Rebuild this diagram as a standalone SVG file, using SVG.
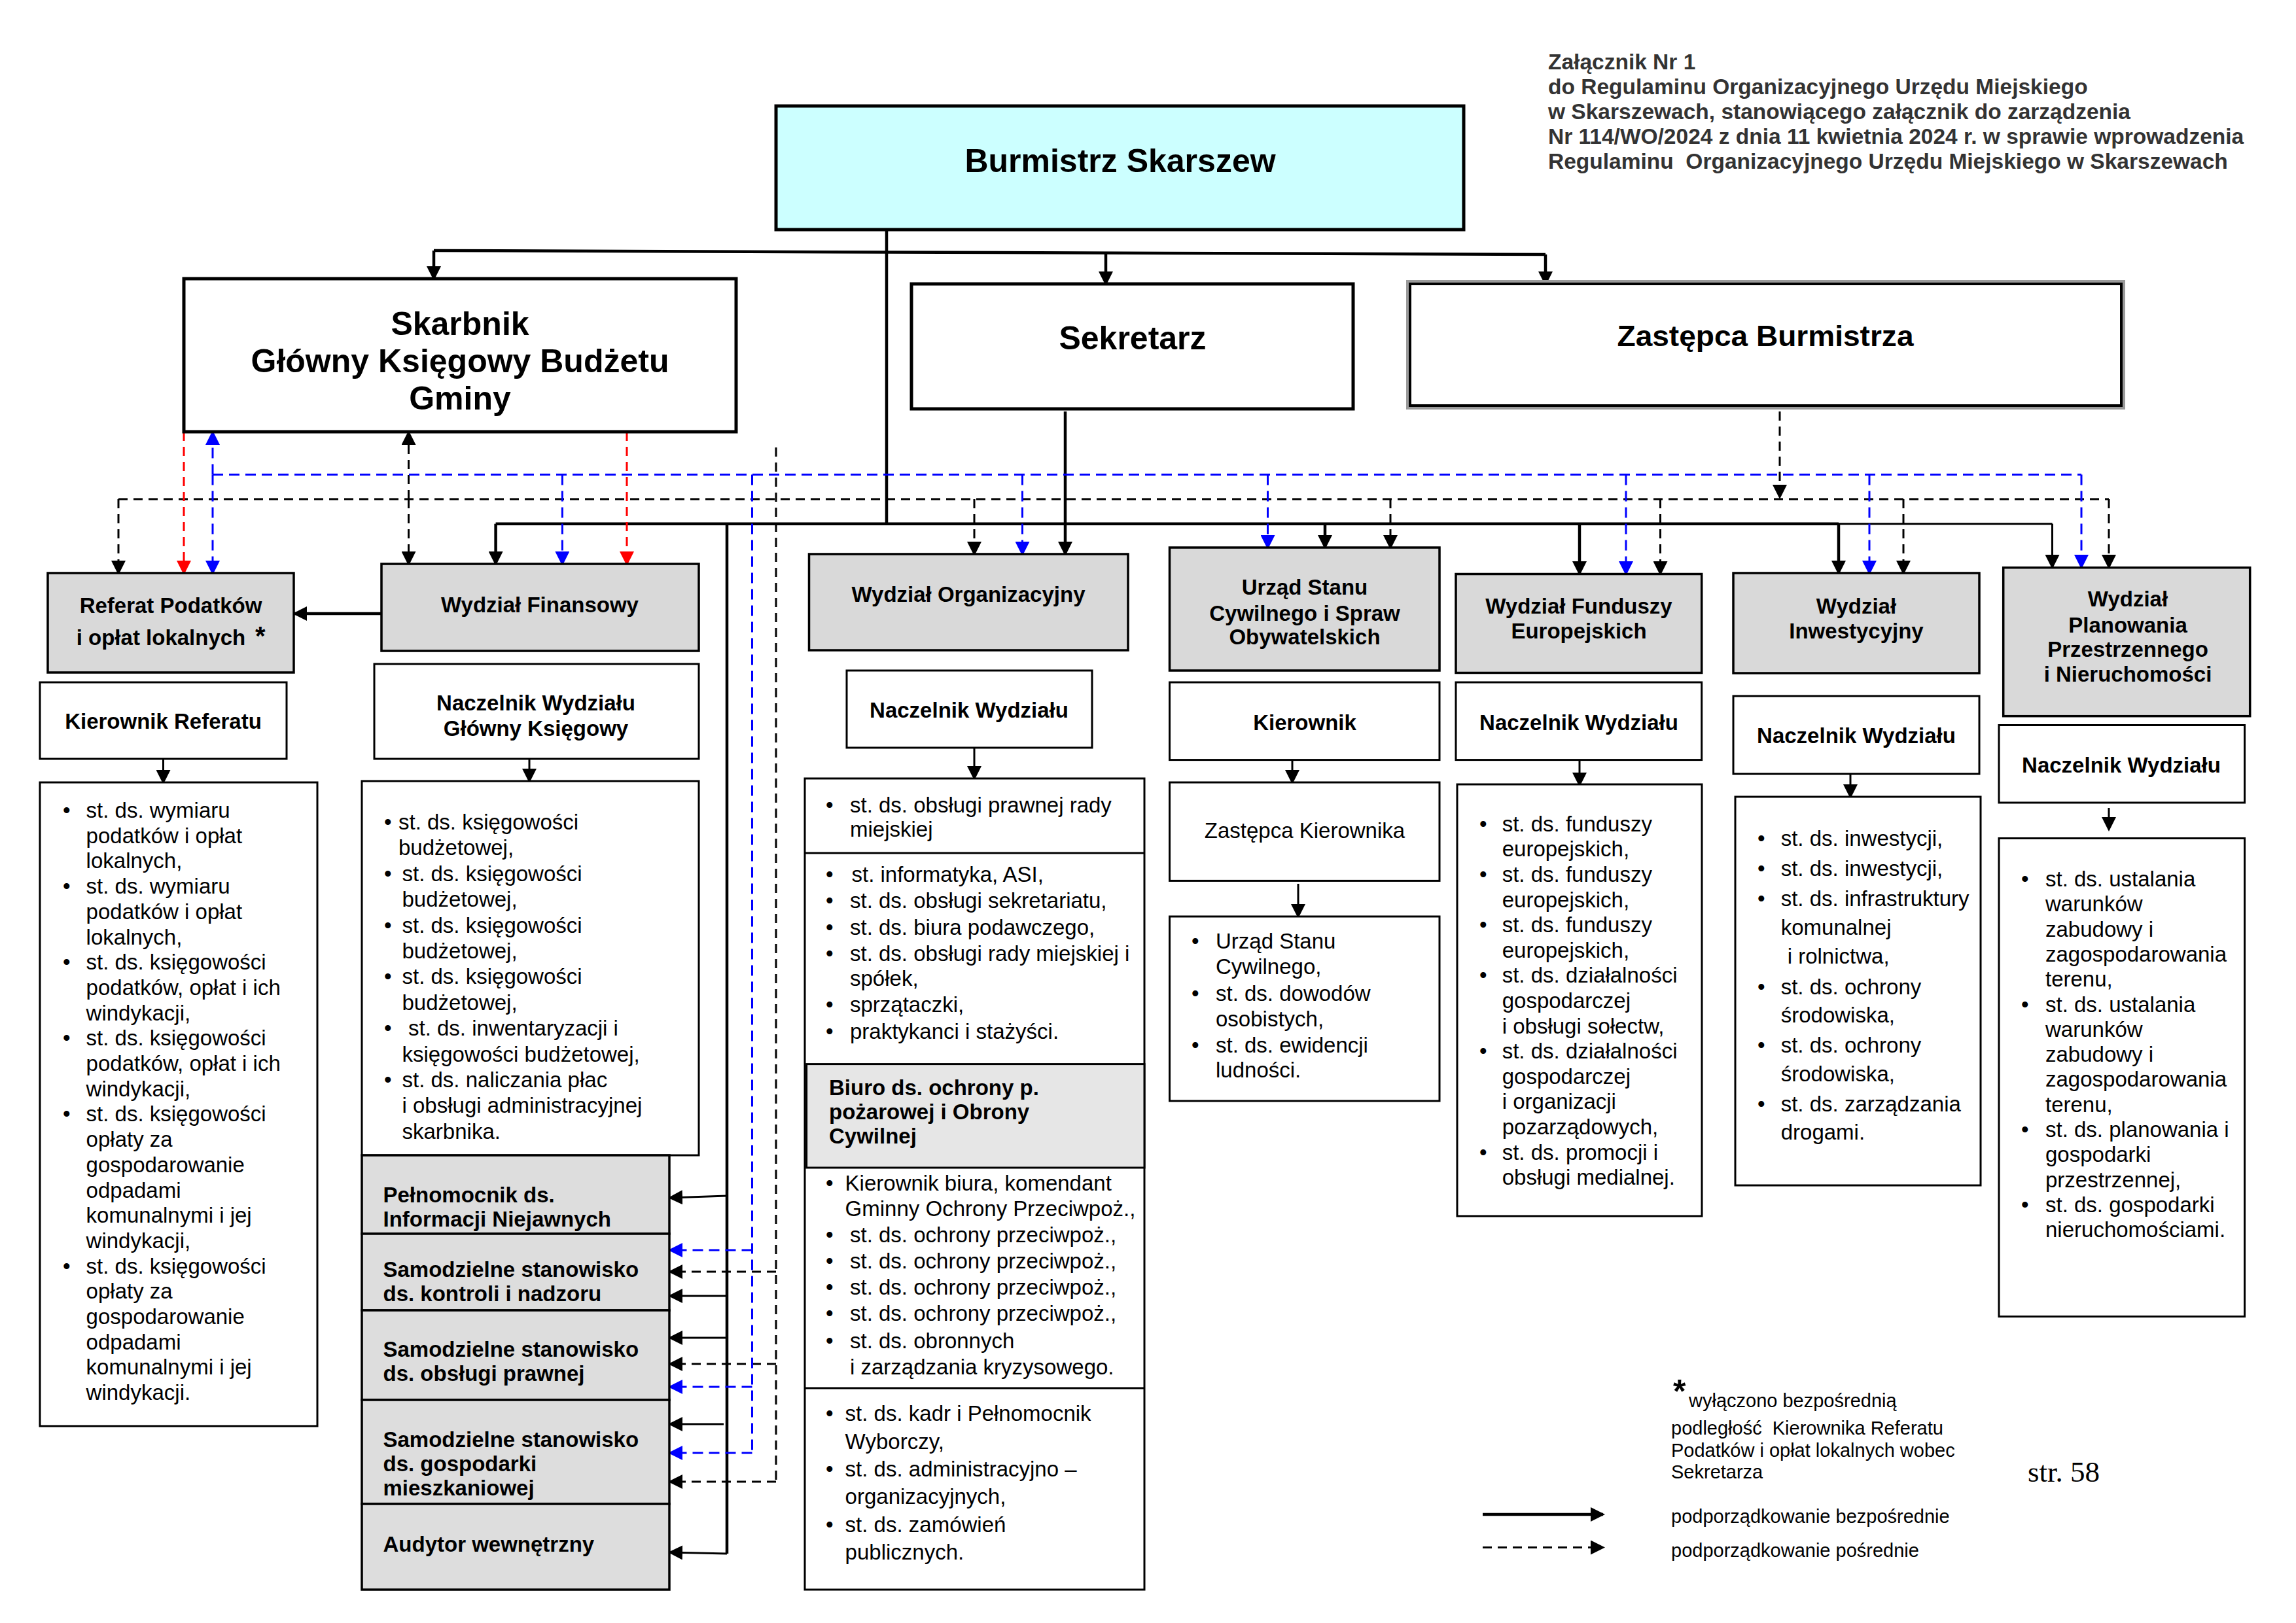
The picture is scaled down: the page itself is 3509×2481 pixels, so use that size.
<svg xmlns="http://www.w3.org/2000/svg" width="3509" height="2481" viewBox="0 0 3509 2481">
<defs>
<style>
.t{font-family:"Liberation Sans",Arial,sans-serif;font-size:33px;fill:#000}
.b{font-weight:bold}
.m{text-anchor:middle}
.big{font-size:50px;font-weight:bold}
.box{fill:#fff;stroke:#000;stroke-width:3}
.main{fill:#fff;stroke:#000;stroke-width:5}
.dept{fill:#D9D9D9;stroke:#000;stroke-width:3.5}
.samo{fill:#DDDDDD;stroke:#000;stroke-width:3.5}
.s{fill:none;stroke:#000;stroke-width:4.5}
.s2{fill:none;stroke:#000;stroke-width:3}
.dk{fill:none;stroke:#000;stroke-width:3;stroke-dasharray:14 9}
.db{fill:none;stroke:#0000FF;stroke-width:3;stroke-dasharray:16 9}
.dr{fill:none;stroke:#FF0000;stroke-width:3;stroke-dasharray:14 9}
.hd{font-family:"Liberation Sans",Arial,sans-serif;font-size:33.5px;font-weight:bold;fill:#333}
.lg{font-family:"Liberation Sans",Arial,sans-serif;font-size:29px;fill:#000}
</style>
<marker id="ak" markerUnits="userSpaceOnUse" viewBox="0 0 22 22" markerWidth="22" markerHeight="22" refX="19" refY="11" orient="auto"><path d="M0 0L22 11L0 22z" fill="#000"/></marker>
<marker id="ab" markerUnits="userSpaceOnUse" viewBox="0 0 22 22" markerWidth="22" markerHeight="22" refX="19" refY="11" orient="auto"><path d="M0 0L22 11L0 22z" fill="#0000FF"/></marker>
<marker id="ar" markerUnits="userSpaceOnUse" viewBox="0 0 22 22" markerWidth="22" markerHeight="22" refX="19" refY="11" orient="auto"><path d="M0 0L22 11L0 22z" fill="#FF0000"/></marker>
</defs>
<rect width="3509" height="2481" fill="#fff"/>

<g id="header">
<text class="hd" x="2366" y="106">Załącznik Nr 1</text>
<text class="hd" x="2366" y="144">do Regulaminu Organizacyjnego Urzędu Miejskiego</text>
<text class="hd" x="2366" y="182">w Skarszewach, stanowiącego załącznik do zarządzenia</text>
<text class="hd" x="2366" y="220">Nr 114/WO/2024 z dnia 11 kwietnia 2024 r. w sprawie wprowadzenia</text>
<text class="hd" x="2366" y="258" xml:space="preserve">Regulaminu  Organizacyjnego Urzędu Miejskiego w Skarszewach</text>
</g>

<g id="connectors">
<path class="s" d="M1355 351V801"/>
<path class="s" d="M663 383L2362 389"/>
<path class="s" d="M663 383V426" marker-end="url(#ak)"/>
<path class="s" d="M1690 386V434" marker-end="url(#ak)"/>
<path class="s" d="M2362 389V434" marker-end="url(#ak)"/>
<path class="s" d="M1628 629V847" marker-end="url(#ak)"/>
<path class="s" d="M757.6 800.7H2810"/>
<path class="s2" d="M2810 800.7H3136.5"/>
<path class="s" d="M757.6 800.7V862" marker-end="url(#ak)"/>
<path class="s" d="M2025 800.7V837" marker-end="url(#ak)"/>
<path class="s" d="M2414 800.7V877" marker-end="url(#ak)"/>
<path class="s" d="M2810 800.7V876" marker-end="url(#ak)"/>
<path class="s2" d="M3136.5 800.7V867" marker-end="url(#ak)"/>
<path class="s" d="M1111 800.7V2375"/>
<path class="s2" d="M1111 1828L1024 1831" marker-end="url(#ak)"/>
<path class="s2" d="M1111 1981H1024" marker-end="url(#ak)"/>
<path class="s2" d="M1111 2045H1024" marker-end="url(#ak)"/>
<path class="s2" d="M1106 2177H1024" marker-end="url(#ak)"/>
<path class="s2" d="M1111 2375L1024 2373" marker-end="url(#ak)"/>
<path class="s" d="M583 938H450" marker-end="url(#ak)"/>
<path class="s2" d="M249.5 1160V1196" marker-end="url(#ak)"/>
<path class="s2" d="M809 1160V1194" marker-end="url(#ak)"/>
<path class="s2" d="M1489 1143V1190" marker-end="url(#ak)"/>
<path class="s2" d="M1975 1162V1196" marker-end="url(#ak)"/>
<path class="s2" d="M1984 1351V1401" marker-end="url(#ak)"/>
<path class="s2" d="M2414 1162V1200" marker-end="url(#ak)"/>
<path class="s2" d="M2828 1183V1218" marker-end="url(#ak)"/>
<path class="s2" d="M3223 1235V1268" marker-end="url(#ak)"/>
<path class="dk" d="M181 763H3223"/>
<path class="dk" d="M181 763V876" marker-end="url(#ak)"/>
<path class="dk" d="M624.5 763V661" marker-end="url(#ak)"/>
<path class="dk" d="M624.5 763V862" marker-end="url(#ak)"/>
<path class="dk" d="M1186 684V2265"/>
<path class="dk" d="M1186 1944H1024" marker-end="url(#ak)"/>
<path class="dk" d="M1186 2085H1024" marker-end="url(#ak)"/>
<path class="dk" d="M1186 2265H1024" marker-end="url(#ak)"/>
<path class="dk" d="M1489 763V847" marker-end="url(#ak)"/>
<path class="dk" d="M2125 763V837" marker-end="url(#ak)"/>
<path class="dk" d="M2537.5 763V877" marker-end="url(#ak)"/>
<path class="dk" d="M2909 763V876" marker-end="url(#ak)"/>
<path class="dk" d="M3223 763V867" marker-end="url(#ak)"/>
<path class="dk" d="M2720 629V760" marker-end="url(#ak)"/>
<path class="db" d="M325 725.5H3181"/>
<path class="db" d="M325 725.5V661" marker-end="url(#ab)"/>
<path class="db" d="M325 725.5V876" marker-end="url(#ab)"/>
<path class="db" d="M859.4 725.5V862" marker-end="url(#ab)"/>
<path class="db" d="M1149.5 725.5V2221"/>
<path class="db" d="M1149.5 1911H1024" marker-end="url(#ab)"/>
<path class="db" d="M1149.5 2120H1024" marker-end="url(#ab)"/>
<path class="db" d="M1149.5 2221H1024" marker-end="url(#ab)"/>
<path class="db" d="M1562.5 725.5V847" marker-end="url(#ab)"/>
<path class="db" d="M1937.5 725.5V837" marker-end="url(#ab)"/>
<path class="db" d="M2485 725.5V877" marker-end="url(#ab)"/>
<path class="db" d="M2857 725.5V876" marker-end="url(#ab)"/>
<path class="db" d="M3181 725.5V867" marker-end="url(#ab)"/>
<path class="dr" d="M281 660V876" marker-end="url(#ar)"/>
<path class="dr" d="M958 660V862" marker-end="url(#ar)"/>
</g>

<g id="burmistrz">
<rect x="1186" y="162" width="1051" height="189" fill="#CCFFFF" stroke="#000" stroke-width="5"/>
<text class="t big m" x="1712" y="263">Burmistrz Skarszew</text>
</g>
<g id="skarbnik">
<rect class="main" x="281" y="426" width="844" height="234"/>
<text class="t big m" x="703" y="512">Skarbnik</text>
<text class="t big m" x="703" y="569">Główny Księgowy Budżetu</text>
<text class="t big m" x="703" y="626">Gminy</text>
</g>
<g id="sekretarz">
<rect class="main" x="1393" y="434" width="675" height="191"/>
<text class="t big m" x="1731" y="534">Sekretarz</text>
</g>
<g id="zastepca">
<rect x="2151" y="430" width="1095" height="194" fill="none" stroke="#9a9a9a" stroke-width="4"/>
<rect x="2155" y="434" width="1087" height="186" fill="#fff" stroke="#000" stroke-width="4"/>
<text class="t b m" x="2698" y="529" style="font-size:44px" textLength="453" lengthAdjust="spacingAndGlyphs">Zastępca Burmistrza</text>
</g>

<g id="referat">
<rect class="dept" x="73" y="876" width="376" height="152"/>
<text class="t b m" x="261" y="937">Referat Podatków</text>
<text class="t b m" x="246" y="986">i opłat lokalnych</text>
<text class="t b" x="390" y="986" style="font-size:40px">*</text>
</g>
<g id="kierownik-referatu">
<rect class="box" x="61" y="1043" width="377" height="117"/>
<text class="t b m" x="249.5" y="1114">Kierownik Referatu</text>
</g>
<g id="referat-lista">
<rect class="box" x="61" y="1196" width="424" height="984"/>
<text class="t">
<tspan x="96" y="1250">•</tspan><tspan x="131.6" y="1250">st. ds. wymiaru</tspan>
<tspan x="131.6" y="1288.7">podatków i opłat</tspan>
<tspan x="131.6" y="1327.4">lokalnych,</tspan>
<tspan x="96" y="1366.1">•</tspan><tspan x="131.6" y="1366.1">st. ds. wymiaru</tspan>
<tspan x="131.6" y="1404.8">podatków i opłat</tspan>
<tspan x="131.6" y="1443.5">lokalnych,</tspan>
<tspan x="96" y="1482.2">•</tspan><tspan x="131.6" y="1482.2">st. ds. księgowości</tspan>
<tspan x="131.6" y="1520.9">podatków, opłat i ich</tspan>
<tspan x="131.6" y="1559.6">windykacji,</tspan>
<tspan x="96" y="1598.3">•</tspan><tspan x="131.6" y="1598.3">st. ds. księgowości</tspan>
<tspan x="131.6" y="1637">podatków, opłat i ich</tspan>
<tspan x="131.6" y="1675.7">windykacji,</tspan>
<tspan x="96" y="1714.4">•</tspan><tspan x="131.6" y="1714.4">st. ds. księgowości</tspan>
<tspan x="131.6" y="1753.1">opłaty za</tspan>
<tspan x="131.6" y="1791.8">gospodarowanie</tspan>
<tspan x="131.6" y="1830.5">odpadami</tspan>
<tspan x="131.6" y="1869.2">komunalnymi i jej</tspan>
<tspan x="131.6" y="1907.9">windykacji,</tspan>
<tspan x="96" y="1946.6">•</tspan><tspan x="131.6" y="1946.6">st. ds. księgowości</tspan>
<tspan x="131.6" y="1985.3">opłaty za</tspan>
<tspan x="131.6" y="2024">gospodarowanie</tspan>
<tspan x="131.6" y="2062.7">odpadami</tspan>
<tspan x="131.6" y="2101.4">komunalnymi i jej</tspan>
<tspan x="131.6" y="2140.1">windykacji.</tspan>
</text>
</g>

<g id="wydzial-finansowy">
<rect class="dept" x="583" y="862" width="485" height="133"/>
<text class="t b m" x="825" y="936">Wydział Finansowy</text>
</g>
<g id="naczelnik-wf">
<rect class="box" x="572" y="1015" width="496" height="145"/>
<text class="t b m" x="819" y="1086">Naczelnik Wydziału</text>
<text class="t b m" x="819" y="1125">Główny Księgowy</text>
</g>
<g id="wf-lista">
<rect class="box" x="553" y="1194" width="515" height="572"/>
<text class="t">
<tspan x="587" y="1268">•</tspan><tspan x="609" y="1268">st. ds. księgowości</tspan>
<tspan x="609" y="1307.4">budżetowej,</tspan>
<tspan x="587" y="1346.8">•</tspan><tspan x="614.5" y="1346.8">st. ds. księgowości</tspan>
<tspan x="614.5" y="1386.2">budżetowej,</tspan>
<tspan x="587" y="1425.6">•</tspan><tspan x="614.5" y="1425.6">st. ds. księgowości</tspan>
<tspan x="614.5" y="1465">budżetowej,</tspan>
<tspan x="587" y="1504.4">•</tspan><tspan x="614.5" y="1504.4">st. ds. księgowości</tspan>
<tspan x="614.5" y="1543.8">budżetowej,</tspan>
<tspan x="587" y="1583.2">•</tspan><tspan x="624" y="1583.2">st. ds. inwentaryzacji i</tspan>
<tspan x="614.5" y="1622.6">księgowości budżetowej,</tspan>
<tspan x="587" y="1662">•</tspan><tspan x="614.5" y="1662">st. ds. naliczania płac</tspan>
<tspan x="614.5" y="1701.4">i obsługi administracyjnej</tspan>
<tspan x="614.5" y="1740.8">skarbnika.</tspan>
</text>
</g>
<g id="pelnomocnik">
<rect class="samo" x="553" y="1766" width="470" height="120"/>
<text class="t b" x="585.5" y="1838">Pełnomocnik ds.</text>
<text class="t b" x="585.5" y="1875">Informacji Niejawnych</text>
</g>
<g id="kontrola">
<rect class="samo" x="553" y="1886" width="470" height="117"/>
<text class="t b" x="585.5" y="1952">Samodzielne stanowisko</text>
<text class="t b" x="585.5" y="1989">ds. kontroli i nadzoru</text>
</g>
<g id="obsluga-prawna">
<rect class="samo" x="553" y="2003" width="470" height="137"/>
<text class="t b" x="585.5" y="2074">Samodzielne stanowisko</text>
<text class="t b" x="585.5" y="2111">ds. obsługi prawnej</text>
</g>
<g id="gospodarka-mieszkaniowa">
<rect class="samo" x="553" y="2140" width="470" height="159"/>
<text class="t b" x="585.5" y="2212">Samodzielne stanowisko</text>
<text class="t b" x="585.5" y="2249">ds. gospodarki</text>
<text class="t b" x="585.5" y="2286">mieszkaniowej</text>
</g>
<g id="audytor">
<rect class="samo" x="553" y="2299" width="470" height="131"/>
<text class="t b" x="585.5" y="2372">Audytor wewnętrzny</text>
</g>

<g id="wydzial-organizacyjny">
<rect class="dept" x="1236.5" y="847" width="487.5" height="147"/>
<text class="t b m" x="1480" y="920">Wydział Organizacyjny</text>
</g>
<g id="naczelnik-wo">
<rect class="box" x="1294" y="1025" width="375" height="118"/>
<text class="t b m" x="1481" y="1097">Naczelnik Wydziału</text>
</g>
<g id="wo-lista">
<rect class="box" x="1230" y="1190" width="519" height="1240"/>
<path class="s2" d="M1230 1304H1749M1230 2122H1749"/>
<text class="t">
<tspan x="1262" y="1242">•</tspan><tspan x="1299" y="1242">st. ds. obsługi prawnej rady</tspan>
<tspan x="1299" y="1279">miejskiej</tspan>
<tspan x="1262" y="1348">•</tspan><tspan x="1301.5" y="1348">st. informatyka, ASI,</tspan>
<tspan x="1262" y="1388">•</tspan><tspan x="1299" y="1388">st. ds. obsługi sekretariatu,</tspan>
<tspan x="1262" y="1428.5">•</tspan><tspan x="1299" y="1428.5">st. ds. biura podawczego,</tspan>
<tspan x="1262" y="1469">•</tspan><tspan x="1299" y="1469">st. ds. obsługi rady miejskiej i</tspan>
<tspan x="1299" y="1507">spółek,</tspan>
<tspan x="1262" y="1547">•</tspan><tspan x="1299" y="1547">sprzątaczki,</tspan>
<tspan x="1262" y="1587.5">•</tspan><tspan x="1299" y="1587.5">praktykanci i stażyści.</tspan>
</text>
</g>
<g id="biuro-ochrony">
<rect x="1232.6" y="1626.6" width="516.4" height="158.4" fill="#E6E6E6" stroke="#000" stroke-width="3"/>
<text class="t b" x="1267" y="1674">Biuro ds. ochrony p.</text>
<text class="t b" x="1267" y="1711">pożarowej i Obrony</text>
<text class="t b" x="1267" y="1748">Cywilnej</text>
<text class="t">
<tspan x="1262" y="1820">•</tspan><tspan x="1291.6" y="1820">Kierownik biura, komendant</tspan>
<tspan x="1291.6" y="1859">Gminny Ochrony Przeciwpoż.,</tspan>
<tspan x="1262" y="1899">•</tspan><tspan x="1299" y="1899">st. ds. ochrony przeciwpoż.,</tspan>
<tspan x="1262" y="1939">•</tspan><tspan x="1299" y="1939">st. ds. ochrony przeciwpoż.,</tspan>
<tspan x="1262" y="1979">•</tspan><tspan x="1299" y="1979">st. ds. ochrony przeciwpoż.,</tspan>
<tspan x="1262" y="2019">•</tspan><tspan x="1299" y="2019">st. ds. ochrony przeciwpoż.,</tspan>
<tspan x="1262" y="2061">•</tspan><tspan x="1299" y="2061">st. ds. obronnych</tspan>
<tspan x="1299" y="2100.5">i zarządzania kryzysowego.</tspan>
</text>
<text class="t">
<tspan x="1262" y="2172">•</tspan><tspan x="1291.6" y="2172">st. ds. kadr i Pełnomocnik</tspan>
<tspan x="1291.6" y="2214.5">Wyborczy,</tspan>
<tspan x="1262" y="2257">•</tspan><tspan x="1291.6" y="2257">st. ds. administracyjno –</tspan>
<tspan x="1291.6" y="2299">organizacyjnych,</tspan>
<tspan x="1262" y="2341.6">•</tspan><tspan x="1291.6" y="2341.6">st. ds. zamówień</tspan>
<tspan x="1291.6" y="2384">publicznych.</tspan>
</text>
</g>

<g id="usc">
<rect class="dept" x="1787.5" y="837" width="412.5" height="188"/>
<text class="t b m" x="1994" y="909">Urząd Stanu</text>
<text class="t b m" x="1994" y="949">Cywilnego i Spraw</text>
<text class="t b m" x="1994" y="985">Obywatelskich</text>
</g>
<g id="kierownik-usc">
<rect class="box" x="1787.5" y="1043" width="412.5" height="118.6"/>
<text class="t b m" x="1994" y="1116">Kierownik</text>
</g>
<g id="zastepca-kierownika">
<rect class="box" x="1787.5" y="1196" width="412.5" height="150.4"/>
<text class="t m" x="1994" y="1281">Zastępca Kierownika</text>
</g>
<g id="usc-lista">
<rect class="box" x="1787.5" y="1401" width="412.5" height="282"/>
<text class="t">
<tspan x="1821" y="1450">•</tspan><tspan x="1858" y="1450">Urząd Stanu</tspan>
<tspan x="1858" y="1489">Cywilnego,</tspan>
<tspan x="1821" y="1530">•</tspan><tspan x="1858" y="1530">st. ds. dowodów</tspan>
<tspan x="1858" y="1569">osobistych,</tspan>
<tspan x="1821" y="1609">•</tspan><tspan x="1858" y="1609">st. ds. ewidencji</tspan>
<tspan x="1858" y="1647">ludności.</tspan>
</text>
</g>

<g id="wfe">
<rect class="dept" x="2225" y="877.5" width="375.7" height="151"/>
<text class="t b m" x="2413" y="938">Wydział Funduszy</text>
<text class="t b m" x="2413" y="976">Europejskich</text>
</g>
<g id="naczelnik-wfe">
<rect class="box" x="2225" y="1043" width="375.7" height="118.6"/>
<text class="t b m" x="2413" y="1116">Naczelnik Wydziału</text>
</g>
<g id="wfe-lista">
<rect class="box" x="2227" y="1199" width="374" height="660"/>
<text class="t">
<tspan x="2261" y="1270.7">•</tspan><tspan x="2295.7" y="1270.7">st. ds. funduszy</tspan>
<tspan x="2295.7" y="1309.3">europejskich,</tspan>
<tspan x="2261" y="1347.9">•</tspan><tspan x="2295.7" y="1347.9">st. ds. funduszy</tspan>
<tspan x="2295.7" y="1386.5">europejskich,</tspan>
<tspan x="2261" y="1425.1">•</tspan><tspan x="2295.7" y="1425.1">st. ds. funduszy</tspan>
<tspan x="2295.7" y="1463.7">europejskich,</tspan>
<tspan x="2261" y="1502.3">•</tspan><tspan x="2295.7" y="1502.3">st. ds. działalności</tspan>
<tspan x="2295.7" y="1540.9">gospodarczej</tspan>
<tspan x="2295.7" y="1579.5">i obsługi sołectw,</tspan>
<tspan x="2261" y="1618.1">•</tspan><tspan x="2295.7" y="1618.1">st. ds. działalności</tspan>
<tspan x="2295.7" y="1656.7">gospodarczej</tspan>
<tspan x="2295.7" y="1695.3">i organizacji</tspan>
<tspan x="2295.7" y="1733.9">pozarządowych,</tspan>
<tspan x="2261" y="1772.5">•</tspan><tspan x="2295.7" y="1772.5">st. ds. promocji i</tspan>
<tspan x="2295.7" y="1811.1">obsługi medialnej.</tspan>
</text>
</g>

<g id="wi">
<rect class="dept" x="2649" y="876" width="376" height="153"/>
<text class="t b m" x="2837" y="938">Wydział</text>
<text class="t b m" x="2837" y="976">Inwestycyjny</text>
</g>
<g id="naczelnik-wi">
<rect class="box" x="2649" y="1064" width="376" height="119"/>
<text class="t b m" x="2837" y="1136">Naczelnik Wydziału</text>
</g>
<g id="wi-lista">
<rect class="box" x="2652" y="1218" width="375" height="594"/>
<text class="t">
<tspan x="2686" y="1293">•</tspan><tspan x="2721.7" y="1293">st. ds. inwestycji,</tspan>
<tspan x="2686" y="1339">•</tspan><tspan x="2721.7" y="1339">st. ds. inwestycji,</tspan>
<tspan x="2686" y="1385">•</tspan><tspan x="2721.7" y="1385">st. ds. infrastruktury</tspan>
<tspan x="2721.7" y="1429">komunalnej</tspan>
<tspan x="2731.7" y="1473">i rolnictwa,</tspan>
<tspan x="2686" y="1520">•</tspan><tspan x="2721.7" y="1520">st. ds. ochrony</tspan>
<tspan x="2721.7" y="1563">środowiska,</tspan>
<tspan x="2686" y="1609">•</tspan><tspan x="2721.7" y="1609">st. ds. ochrony</tspan>
<tspan x="2721.7" y="1653">środowiska,</tspan>
<tspan x="2686" y="1699">•</tspan><tspan x="2721.7" y="1699">st. ds. zarządzania</tspan>
<tspan x="2721.7" y="1742">drogami.</tspan>
</text>
</g>

<g id="wppin">
<rect class="dept" x="3061.7" y="867.7" width="377" height="227"/>
<text class="t b m" x="3252" y="927">Wydział</text>
<text class="t b m" x="3252" y="966.5">Planowania</text>
<text class="t b m" x="3252" y="1004">Przestrzennego</text>
<text class="t b m" x="3252" y="1042">i Nieruchomości</text>
</g>
<g id="naczelnik-wppin">
<rect class="box" x="3055" y="1108.5" width="375.5" height="118.5"/>
<text class="t b m" x="3242" y="1181">Naczelnik Wydziału</text>
</g>
<g id="wppin-lista">
<rect class="box" x="3055" y="1281.5" width="375.5" height="731"/>
<text class="t">
<tspan x="3089" y="1355">•</tspan><tspan x="3126" y="1355">st. ds. ustalania</tspan>
<tspan x="3126" y="1393.3">warunków</tspan>
<tspan x="3126" y="1431.6">zabudowy i</tspan>
<tspan x="3126" y="1469.9">zagospodarowania</tspan>
<tspan x="3126" y="1508.2">terenu,</tspan>
<tspan x="3089" y="1546.5">•</tspan><tspan x="3126" y="1546.5">st. ds. ustalania</tspan>
<tspan x="3126" y="1584.8">warunków</tspan>
<tspan x="3126" y="1623.1">zabudowy i</tspan>
<tspan x="3126" y="1661.4">zagospodarowania</tspan>
<tspan x="3126" y="1699.7">terenu,</tspan>
<tspan x="3089" y="1738">•</tspan><tspan x="3126" y="1738">st. ds. planowania i</tspan>
<tspan x="3126" y="1776.3">gospodarki</tspan>
<tspan x="3126" y="1814.6">przestrzennej,</tspan>
<tspan x="3089" y="1852.9">•</tspan><tspan x="3126" y="1852.9">st. ds. gospodarki</tspan>
<tspan x="3126" y="1891.2">nieruchomościami.</tspan>
</text>
</g>

<g id="legend">
<text class="t b" x="2557" y="2144" style="font-size:50px">*</text>
<text class="lg" x="2581" y="2151">wyłączono bezpośrednią</text>
<text class="lg" x="2554" y="2193" xml:space="preserve">podległość  Kierownika Referatu</text>
<text class="lg" x="2554" y="2227">Podatków i opłat lokalnych wobec</text>
<text class="lg" x="2554" y="2260">Sekretarza</text>
<path class="s" d="M2266 2315H2450" marker-end="url(#ak)"/>
<path class="dk" d="M2266 2365.5H2450" marker-end="url(#ak)"/>
<text class="lg" x="2554" y="2328">podporządkowanie bezpośrednie</text>
<text class="lg" x="2554" y="2380">podporządkowanie pośrednie</text>
<text x="3099" y="2265" style="font-family:'Liberation Serif','Times New Roman',serif;font-size:45px">str. 58</text>
</g>
</svg>
